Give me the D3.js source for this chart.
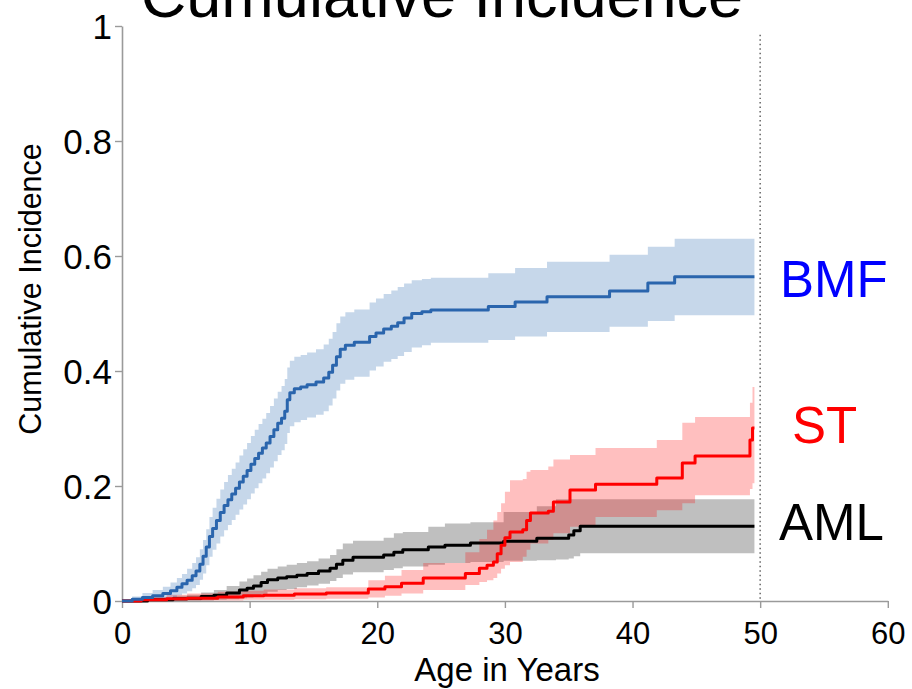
<!DOCTYPE html>
<html>
<head>
<meta charset="utf-8">
<script src="https://cdn.jsdelivr.net/npm/d3@7"></script>
<style>
  html, body { margin: 0; padding: 0; background: #fff; }
  svg { display: block; font-family: "Liberation Sans", Arial, Helvetica, sans-serif; }
</style>
</head>
<body>
<svg id="chart" width="912" height="689"></svg>
<script>
// Cumulative incidence step estimates with confidence bands, by outcome

// BMF
const bmfTime = [0, 0.8, 1.6, 2.4, 3.2, 3.8, 4.3, 4.7, 5.1, 5.5, 5.8, 6.1, 6.35, 6.6, 6.85, 7.1, 7.4, 7.7, 8.0, 8.3, 8.6, 8.9, 9.2, 9.5, 9.8, 10.1, 10.4, 10.7, 11.0, 11.3, 11.6, 11.9, 12.2, 12.5, 12.75, 12.95, 13.15, 13.5, 14.0, 14.5, 15.2, 15.8, 16.2, 16.5, 16.8, 17.1, 17.5, 18.2, 19.4, 19.9, 20.5, 21.1, 21.6, 22.1, 22.7, 23.5, 24.2, 28.7, 30.8, 33.3, 38.2, 41.2, 43.3, 49.55];
const bmfEst  = [0, 0.003, 0.006, 0.009, 0.013, 0.018, 0.024, 0.030, 0.036, 0.044, 0.052, 0.064, 0.078, 0.094, 0.112, 0.126, 0.140, 0.154, 0.166, 0.176, 0.186, 0.196, 0.207, 0.217, 0.227, 0.238, 0.248, 0.257, 0.266, 0.275, 0.286, 0.298, 0.309, 0.318, 0.330, 0.350, 0.362, 0.369, 0.372, 0.376, 0.381, 0.388, 0.398, 0.410, 0.425, 0.438, 0.445, 0.450, 0.460, 0.466, 0.473, 0.478, 0.484, 0.492, 0.500, 0.503, 0.506, 0.512, 0.520, 0.529, 0.539, 0.553, 0.564, 0.564];
const bmfLow  = [0, 0, 0.001, 0.002, 0.004, 0.006, 0.010, 0.013, 0.017, 0.022, 0.028, 0.037, 0.048, 0.062, 0.077, 0.089, 0.100, 0.112, 0.123, 0.132, 0.141, 0.150, 0.159, 0.168, 0.177, 0.187, 0.196, 0.205, 0.213, 0.222, 0.232, 0.243, 0.254, 0.262, 0.273, 0.292, 0.304, 0.311, 0.315, 0.319, 0.324, 0.330, 0.340, 0.352, 0.366, 0.378, 0.385, 0.390, 0.401, 0.408, 0.416, 0.421, 0.426, 0.433, 0.441, 0.445, 0.449, 0.454, 0.460, 0.468, 0.477, 0.487, 0.497, 0.497];
const bmfHigh = [0, 0.008, 0.014, 0.019, 0.025, 0.032, 0.040, 0.047, 0.056, 0.066, 0.076, 0.090, 0.106, 0.125, 0.146, 0.162, 0.178, 0.194, 0.207, 0.219, 0.230, 0.241, 0.253, 0.264, 0.275, 0.287, 0.298, 0.308, 0.317, 0.327, 0.339, 0.352, 0.364, 0.374, 0.386, 0.406, 0.418, 0.425, 0.428, 0.432, 0.438, 0.446, 0.456, 0.468, 0.483, 0.495, 0.502, 0.507, 0.519, 0.526, 0.534, 0.540, 0.546, 0.552, 0.558, 0.560, 0.562, 0.570, 0.579, 0.590, 0.602, 0.616, 0.630, 0.630];

// ST
const stTime = [0, 1.5, 3.5, 5.1, 7.5, 9.5, 11.1, 13.5, 16.0, 19.3, 20.6, 21.9, 23.6, 26.9, 28.0, 28.6, 29.1, 29.4, 29.7, 30.0, 30.4, 31.4, 31.7, 32.0, 33.4, 33.8, 35.1, 37.1, 41.9, 43.9, 44.9, 49.2, 49.4, 49.55];
const stEst  = [0, 0.002, 0.004, 0.005, 0.007, 0.009, 0.010, 0.012, 0.014, 0.021, 0.025, 0.031, 0.040, 0.048, 0.057, 0.062, 0.068, 0.082, 0.097, 0.110, 0.120, 0.124, 0.140, 0.153, 0.156, 0.172, 0.193, 0.203, 0.214, 0.240, 0.252, 0.280, 0.301, 0.301];
const stLow  = [0, 0, 0, 0.001, 0.001, 0.002, 0.002, 0.003, 0.004, 0.006, 0.009, 0.013, 0.019, 0.028, 0.033, 0.036, 0.040, 0.048, 0.056, 0.062, 0.068, 0.077, 0.089, 0.100, 0.106, 0.118, 0.129, 0.146, 0.158, 0.170, 0.184, 0.195, 0.205, 0.205];
const stHigh = [0, 0.007, 0.011, 0.013, 0.016, 0.018, 0.020, 0.022, 0.024, 0.036, 0.044, 0.054, 0.066, 0.085, 0.108, 0.124, 0.140, 0.155, 0.170, 0.190, 0.210, 0.212, 0.225, 0.228, 0.234, 0.246, 0.254, 0.266, 0.280, 0.310, 0.320, 0.345, 0.372, 0.372];

// AML
const amlTime = [0, 2.0, 4.0, 5.1, 6.2, 7.2, 8.2, 9.2, 9.8, 10.3, 10.9, 11.4, 12.2, 12.9, 13.7, 14.5, 15.4, 16.3, 16.8, 17.3, 18.1, 20.5, 21.3, 22.0, 24.0, 25.3, 27.3, 29.9, 32.5, 34.0, 35.0, 35.4, 35.9, 49.55];
const amlEst  = [0, 0.002, 0.004, 0.005, 0.008, 0.010, 0.014, 0.019, 0.022, 0.026, 0.032, 0.037, 0.040, 0.042, 0.045, 0.048, 0.052, 0.057, 0.064, 0.071, 0.076, 0.080, 0.085, 0.089, 0.094, 0.097, 0.101, 0.104, 0.109, 0.109, 0.115, 0.122, 0.130, 0.130];
const amlLow  = [0, 0, 0, 0.0005, 0.001, 0.002, 0.003, 0.005, 0.006, 0.008, 0.012, 0.016, 0.019, 0.021, 0.024, 0.027, 0.030, 0.035, 0.040, 0.046, 0.050, 0.054, 0.057, 0.060, 0.063, 0.066, 0.068, 0.070, 0.071, 0.072, 0.074, 0.078, 0.083, 0.083];
const amlHigh = [0, 0.006, 0.009, 0.011, 0.015, 0.019, 0.026, 0.034, 0.039, 0.045, 0.051, 0.056, 0.060, 0.063, 0.066, 0.069, 0.074, 0.080, 0.090, 0.100, 0.105, 0.110, 0.118, 0.120, 0.129, 0.135, 0.137, 0.155, 0.165, 0.177, 0.177, 0.177, 0.177, 0.177];

// Axis ticks
const xTicks = [0, 10, 20, 30, 40, 50, 60];
const yTicks = [0, 0.2, 0.4, 0.6, 0.8, 1];
const yTickLabels = ["0", "0.2", "0.4", "0.6", "0.8", "1"];
const followUpEnd = 50;

const svg = d3.select("#chart");

const x = d3.scaleLinear().domain([0, 60]).range([122, 887.8]);
const y = d3.scaleLinear().domain([0, 1]).range([601, 26]);

function rows(t, est, lo, hi) {
  return t.map((d, i) => ({ t: d, est: est[i], lo: lo[i], hi: hi[i] }));
}

const series = [
  { name: "AML", data: rows(amlTime, amlEst, amlLow, amlHigh), line: "#000000", band: "rgba(0,0,0,0.25)",      text: "#000000", labelX: 779, labelY: 540 },
  { name: "ST",  data: rows(stTime, stEst, stLow, stHigh),     line: "#ff0000", band: "rgba(255,0,0,0.25)",    text: "#ff0000", labelX: 792, labelY: 443 },
  { name: "BMF", data: rows(bmfTime, bmfEst, bmfLow, bmfHigh), line: "#2a65ad", band: "rgba(33,102,172,0.26)", text: "#0000ff", labelX: 780, labelY: 297 }
];

// Title (runs off the top edge)
svg.append("text")
  .attr("x", 442).attr("y", 17)
  .attr("text-anchor", "middle")
  .attr("font-size", 63)
  .attr("fill", "#000")
  .text("Cumulative Incidence");

// Axes
const xAxis = d3.axisBottom(x).tickValues(xTicks).tickSize(7).tickSizeOuter(0).tickFormat(d3.format("d"));
const yAxis = d3.axisLeft(y).tickValues(yTicks).tickSize(7).tickSizeOuter(0).tickFormat((d, i) => yTickLabels[i]);

const gx = svg.append("g").attr("transform", `translate(0,${y(0)})`).call(xAxis);
const gy = svg.append("g").attr("transform", `translate(${x(0)},0)`).call(yAxis);

[gx, gy].forEach(g => {
  g.select(".domain").attr("stroke", "#9a9a9a").attr("stroke-width", 1.6);
  g.selectAll(".tick line").attr("stroke", "#9a9a9a").attr("stroke-width", 1.4);
  g.selectAll(".tick text").attr("fill", "#000").attr("font-family", "Liberation Sans, Arial, sans-serif");
});
gx.selectAll(".tick text").attr("font-size", 31).attr("dy", 0).attr("y", 43);
gy.selectAll(".tick text").attr("font-size", 35).attr("x", -10).attr("dy", "0.35em");

// Axis titles
svg.append("text")
  .attr("x", 507).attr("y", 681)
  .attr("text-anchor", "middle")
  .attr("font-size", 33)
  .attr("fill", "#000")
  .text("Age in Years");

svg.append("text")
  .attr("transform", "translate(41,289) rotate(-90)")
  .attr("text-anchor", "middle")
  .attr("font-size", 30.5)
  .attr("fill", "#000")
  .text("Cumulative Incidence");

// End of follow-up marker
svg.append("line")
  .attr("x1", x(followUpEnd)).attr("x2", x(followUpEnd))
  .attr("y1", y(0.985)).attr("y2", y(0))
  .attr("stroke", "#6e6e6e")
  .attr("stroke-width", 1.6)
  .attr("stroke-dasharray", "1.5,3");

const area = d3.area()
  .x(d => x(d.t)).y0(d => y(d.lo)).y1(d => y(d.hi))
  .curve(d3.curveStepAfter);

const line = d3.line()
  .x(d => x(d.t)).y(d => y(d.est))
  .curve(d3.curveStepAfter);

// Bands
svg.append("g").selectAll("path.band")
  .data(series).join("path")
  .attr("class", "band")
  .attr("d", s => area(s.data))
  .attr("fill", s => s.band);

// Estimates
svg.append("g").selectAll("path.est")
  .data(series).join("path")
  .attr("class", "est")
  .attr("d", s => line(s.data))
  .attr("fill", "none")
  .attr("stroke", s => s.line)
  .attr("stroke-width", 3)
  .attr("stroke-linejoin", "round");

// Series labels
svg.append("g").selectAll("text")
  .data(series).join("text")
  .attr("x", s => s.labelX).attr("y", s => s.labelY)
  .attr("font-size", 51)
  .attr("fill", s => s.text)
  .text(s => s.name);
</script>
</body>
</html>
